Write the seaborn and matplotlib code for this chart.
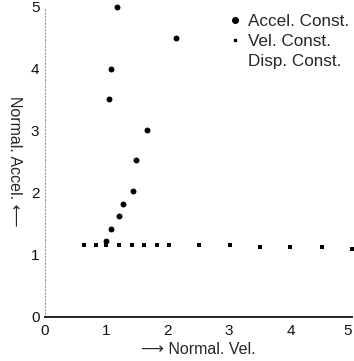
import numpy as np
import pandas as pd
import matplotlib
matplotlib.use("Agg")
import matplotlib.pyplot as plt
import seaborn as sns
from matplotlib.lines import Line2D

sns.set_style("white")
plt.rcParams['font.family'] = ['Liberation Sans', 'DejaVu Sans']

accel_x = [1.17, 2.14, 1.07, 1.04, 1.66, 1.48, 1.44, 1.27, 1.20, 1.07, 1.00]
accel_y = [5.00, 4.50, 4.00, 3.51, 3.01, 2.52, 2.02, 1.82, 1.62, 1.42, 1.22]
vel_x = [0.64, 0.83, 1.00, 1.21, 1.42, 1.61, 1.82, 2.02, 2.51, 3.01, 3.51, 4.00, 4.51, 5.00]
vel_y = [1.15, 1.15, 1.16, 1.16, 1.16, 1.16, 1.16, 1.16, 1.15, 1.15, 1.13, 1.13, 1.12, 1.10]
x_ticks = [0, 1, 2, 3, 4, 5]
y_ticks = [0, 1, 2, 3, 4, 5]
legend_labels = ["Accel. Const.", "Vel. Const.", "Disp. Const."]

df_a = pd.DataFrame({"x": accel_x, "y": accel_y})
df_v = pd.DataFrame({"x": vel_x, "y": vel_y})

fig = plt.figure(figsize=(3.54, 3.61), dpi=100)
ax = fig.add_axes([0.127, 0.1227, 0.867, 0.8587])

sns.scatterplot(data=df_a, x="x", y="y", ax=ax, color="black", s=18,
                marker="o", linewidth=0, clip_on=False, zorder=3)
sns.scatterplot(data=df_v, x="x", y="y", ax=ax, color="black", s=5,
                marker="s", linewidth=0, clip_on=False, zorder=3)

ax.set_xlim(0, 5)
ax.set_ylim(0, 5)
ax.set_xticks(x_ticks)
ax.set_yticks(y_ticks)
ax.set_xticklabels([str(t) for t in x_ticks])
ax.set_yticklabels([str(t) for t in y_ticks])
ax.tick_params(axis='both', labelsize=11, colors='#111111', labelrotation=0)
ax.tick_params(axis='y', direction='in', length=3, width=1, pad=4)
ax.tick_params(axis='x', direction='in', length=3, width=0.8, pad=5)
for lbl in ax.get_yticklabels():
    lbl.set_rotation(0)
ax.get_xticklabels()[-1].set_horizontalalignment('right')

for s in ["top", "right"]:
    ax.spines[s].set_visible(False)
ax.spines["left"].set_linestyle((0, (1, 2)))
ax.spines["left"].set_color("#999999")
ax.spines["left"].set_linewidth(0.8)
ax.spines["bottom"].set_color("#222222")
ax.spines["bottom"].set_linewidth(1.4)

ax.set_xlabel("\u27f6 Normal. Vel.", fontsize=11.5, labelpad=3)
ax.set_ylabel("Normal. Accel. \u27f5", fontsize=11.5, labelpad=12)
ax.yaxis.label.set_rotation(270)
ax.yaxis.label.set_va('center')

handles = [
    Line2D([], [], marker='o', color='black', linestyle='none', markersize=4),
    Line2D([], [], marker='s', color='black', linestyle='none', markersize=2),
    Line2D([], [], marker='', color='none', linestyle='none'),
]
ax.legend(handles, legend_labels, loc='upper right', bbox_to_anchor=(1.025, 1.01),
          frameon=False, fontsize=12.3, handlelength=0.5, handletextpad=0.55,
          labelspacing=0.3, borderaxespad=0.2)

fig.savefig("out.png", dpi=100)
